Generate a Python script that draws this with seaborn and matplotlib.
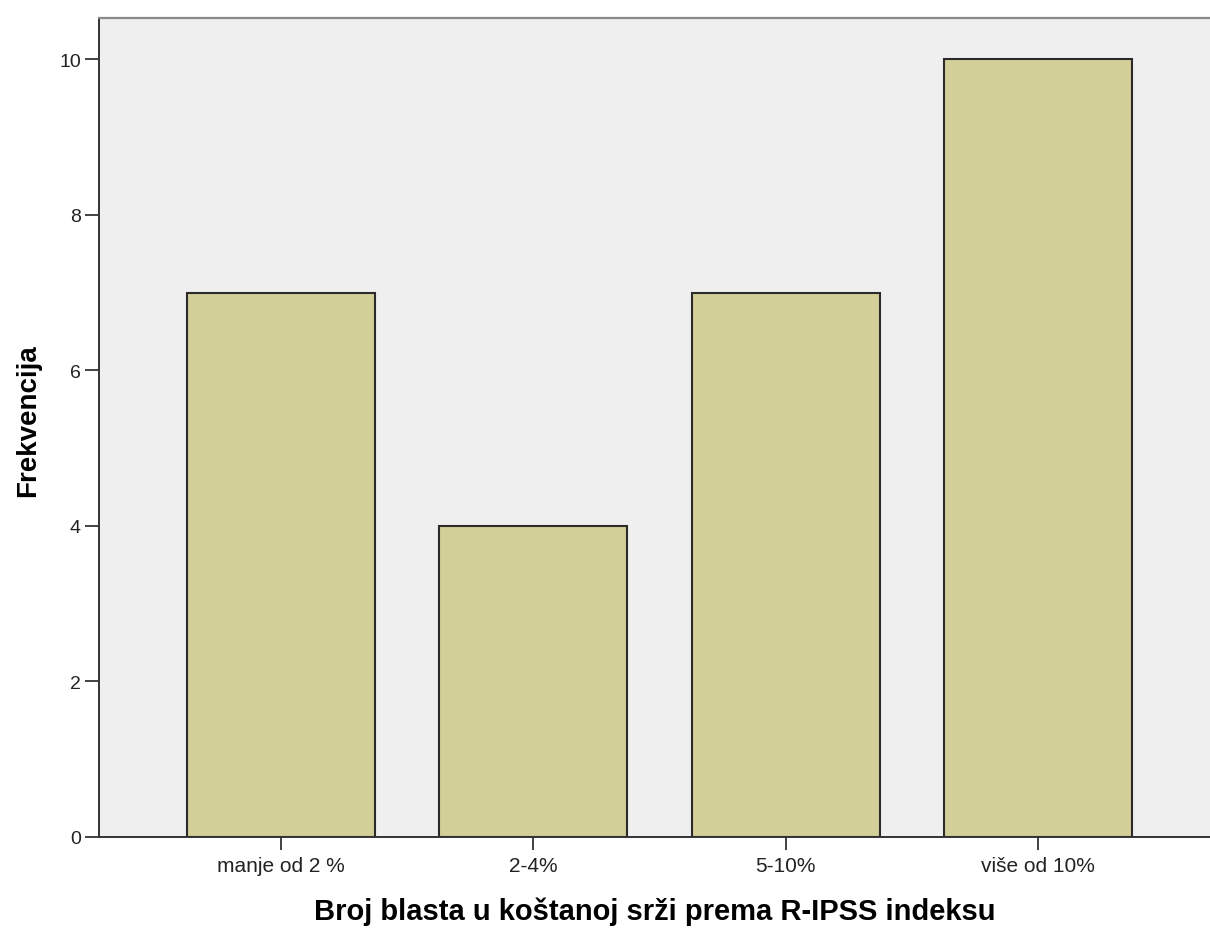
import matplotlib
matplotlib.use('Agg')
import matplotlib.pyplot as plt
import seaborn as sns
import pandas as pd

# podaci
kategorije = ['manje od 2 %', '2-4%', '5-10%', 'više od 10%']
frekvencije = [7, 4, 7, 10]
y_tickovi = [0, 2, 4, 6, 8, 10]

df = pd.DataFrame({'kategorija': kategorije, 'frekvencija': frekvencije})

sns.set_style('white')
plt.rcParams['font.family'] = ['Liberation Sans', 'DejaVu Sans']

fig = plt.figure(figsize=(12.1, 9.29), dpi=100)
ax = fig.add_axes([0.0818, 0.098, 0.9182, 0.8815])
ax.set_facecolor('#efefef')

sns.barplot(data=df, x='kategorija', y='frekvencija', color='#d3cf98',
            width=0.744, edgecolor='#2b2b2b', linewidth=1.5, saturation=1, ax=ax)

ax.set_xlim(-0.72, 3.68)
ax.set_ylim(0, 10.53)
ax.set_yticks(y_tickovi)
ax.set_yticklabels([str(t) for t in y_tickovi], fontsize=14)
ax.tick_params(axis='x', labelsize=15, length=9, width=1.3, color='#333333',
               pad=5, bottom=True, labelcolor='#222222')
ax.tick_params(axis='y', length=10, width=1.3, color='#333333', pad=3,
               left=True, labelcolor='#222222')

for s in ['left', 'bottom']:
    ax.spines[s].set_color('#333333')
    ax.spines[s].set_linewidth(1.4)
ax.spines['top'].set_color('#888888')
ax.spines['top'].set_linewidth(1.6)
ax.spines['right'].set_visible(False)

ax.set_xlabel('Broj blasta u koštanoj srži prema R-IPSS indeksu', fontsize=21,
              fontweight='bold', labelpad=15, color='black')
ax.set_ylabel('Frekvencija', fontsize=20, fontweight='bold', labelpad=16,
              color='black')
ax.yaxis.set_label_coords(-0.052, 0.51)

fig.savefig('out.png', dpi=100)
